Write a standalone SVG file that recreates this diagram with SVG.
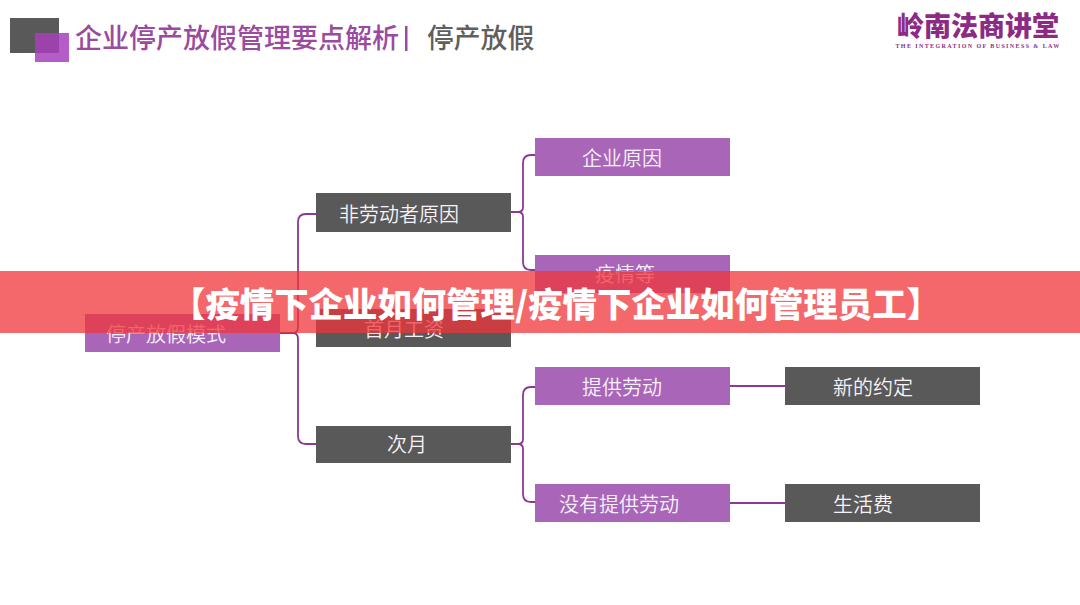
<svg xmlns="http://www.w3.org/2000/svg" width="1080" height="605" viewBox="0 0 1080 605">
<style>
.cjk{font-family:"Noto Sans CJK SC","Noto Sans CJK JP",sans-serif}
.p rect{fill:#a966b9}
.g rect{fill:#595959}
.n text{font-family:"Noto Sans CJK SC",sans-serif;font-size:20px;fill:#f7f2f8;text-anchor:middle;font-weight:350}
.c{fill:none;stroke:#8a3a92;stroke-width:1.8}
</style>
<rect width="1080" height="605" fill="#fff"/>
<g id="header">
<rect x="10" y="18" width="49" height="35" fill="#595959"/>
<rect x="35" y="33" width="24" height="20" fill="#9c42ab"/>
<path d="M59 33h10v29h-34v-9h24z" fill="#b45dc8"/>
<text x="75" y="48" class="cjk" font-size="27" fill="#9a4a9f" font-weight="500">企业停产放假管理要点解析</text>
<rect x="405" y="26" width="2.500" height="25" fill="#9a4a9f"/>
<text x="427" y="48" class="cjk" font-size="26.800" fill="#5f5f5f" font-weight="500">停产放假</text>
</g>
<g id="logo">
<text x="978" y="36" font-family="'Noto Sans CJK SC',sans-serif" font-size="27" font-weight="900" fill="#8c2a84" text-anchor="middle">岭南法商讲堂</text>
<text x="978" y="47.500" font-family="'Liberation Serif',serif" font-size="6" font-weight="700" letter-spacing="1.400" fill="#8c2a84" text-anchor="middle">THE INTEGRATION OF BUSINESS &amp; LAW</text>
</g>
<g id="connectors">
<path class="c" d="M280 333H293Q298 333 298 327V222Q298 214 306 214H316"/>
<path class="c" d="M293 333Q298 333 298 339V436Q298 444 306 444H316"/>
<path class="c" d="M511 212H518Q523 212 523 207V163Q523 155 531 155H535"/>
<path class="c" d="M518 212Q523 212 523 217V262Q523 270 531 270H535"/>
<path class="c" d="M511 444H518Q523 444 523 439V395Q523 387 531 387H535"/>
<path class="c" d="M518 444Q523 444 523 449V494Q523 502 531 502H535"/>
<path class="c" d="M730 386H785"/>
<path class="c" d="M730 503H785"/>
</g>
<g id="node-mode" class="n p"><rect x="85" y="314" width="195" height="38"/><text x="166" y="342">停产放假模式</text></g>
<g id="node-nonworker" class="n g"><rect x="316" y="193" width="195" height="39"/><text x="399" y="222">非劳动者原因</text></g>
<g id="node-firstmonth" class="n g"><rect x="316" y="309" width="195" height="38"/><text x="404" y="337">首月工资</text></g>
<g id="node-nextmonth" class="n g"><rect x="316" y="426" width="195" height="37"/><text x="407" y="452">次月</text></g>
<g id="node-company" class="n p"><rect x="535" y="138" width="195" height="38"/><text x="622" y="166">企业原因</text></g>
<g id="node-epidemic" class="n p"><rect x="535" y="255" width="195" height="38"/><text x="625" y="282">疫情等</text></g>
<g id="node-provide" class="n p"><rect x="535" y="367" width="195" height="38"/><text x="622" y="395">提供劳动</text></g>
<g id="node-noprovide" class="n p"><rect x="535" y="484" width="195" height="38"/><text x="619" y="512">没有提供劳动</text></g>
<g id="node-agreement" class="n g"><rect x="785" y="367" width="195" height="38"/><text x="873" y="395">新的约定</text></g>
<g id="node-living" class="n g"><rect x="785" y="484" width="195" height="38"/><text x="863" y="512">生活费</text></g>
<g id="banner">
<rect x="0" y="271" width="1080" height="62" fill="#f0353b" fill-opacity="0.75"/>
<text x="556" y="317" class="cjk" font-size="34.400" font-weight="900" fill="#fff" text-anchor="middle">【疫情下企业如何管理/疫情下企业如何管理员工】</text>
</g>
</svg>
